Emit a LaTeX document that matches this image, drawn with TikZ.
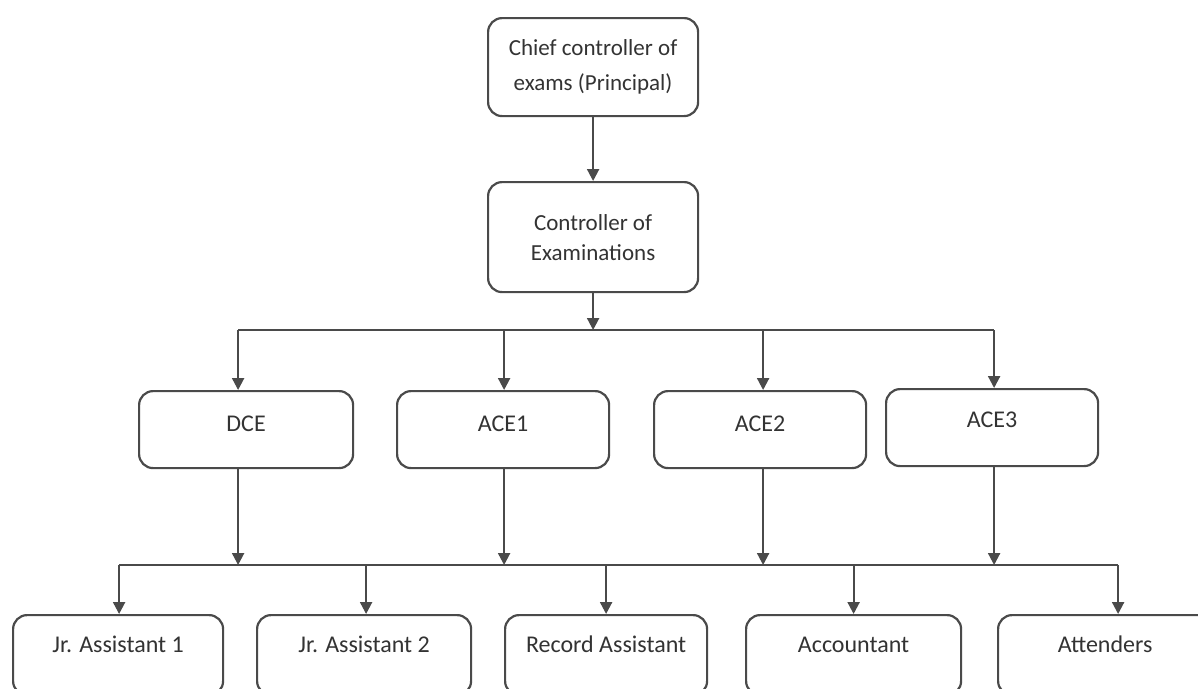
\documentclass[tikz,border=0pt]{standalone}
\usepackage{fontspec}
\setmainfont{Carlito}
\usetikzlibrary{arrows.meta}
\definecolor{ln}{HTML}{4A4A4A}
\definecolor{tx}{HTML}{333333}
\begin{document}
\begin{tikzpicture}[x=1pt,y=-1pt,
  box/.style={draw=ln, line width=2.2pt, rounded corners=14pt, text=tx, inner sep=0pt, anchor=north west},
  txt/.style={font=\fontsize{24}{28}\selectfont},
  upper/.style={box, txt, minimum width=#1, text height=40pt, text depth=37pt},
  lower/.style={box, txt, minimum width=#1, text height=37pt, text depth=43pt},
  arr/.style={draw=ln, line width=2.2pt, -{Triangle[width=12pt,length=12pt]}},
  bus/.style={draw=ln, line width=2.2pt}]
\useasboundingbox (0,0) rectangle (1198,688);
\clip (0,0) rectangle (1198,688);
\fill[white] (0,0) rectangle (1198,688);

% top boxes
\node[box, minimum width=210pt, minimum height=98pt, align=center,
      font=\fontsize{23}{35}\selectfont] (chief) at (487,17) {Chief controller of\\exams (Principal)};
\node[box, minimum width=210pt, minimum height=110pt, align=center,
      font=\fontsize{23}{30}\selectfont] (ctrl) at (487,181) {Controller of\\Examinations};

% second level
\node[upper=214pt] (dce)  at (138,390) {DCE};
\node[upper=212pt] (ace1) at (396,390) {ACE1};
\node[upper=212pt] (ace2) at (653,390) {ACE2};
\node[upper=212pt, text height=38pt, text depth=39pt] (ace3) at (885,388) {ACE3};

% third level
\node[lower=210pt] (jr1) at (12,614) {Jr. Assistant 1};
\node[lower=214pt] (jr2) at (256,614) {Jr. Assistant 2};
\node[lower=202pt] (rec) at (504,614) {Record Assistant};
\node[lower=215pt] (acc) at (745,614) {Accountant};
\node[lower=214pt] (att) at (997,614) {Attenders};

\coordinate (bus1) at (593,330);
\coordinate (bus2) at (600,565);

% chief -> controller
\draw[arr] (chief.south) -- (ctrl.north);
\draw[arr] (ctrl.south) -- (ctrl.south |- bus1);

% bus 1
\draw[bus] ([xshift=-8pt]dce.north |- bus1) -- ([xshift=2pt]ace3.north |- bus1);
\draw[arr] ([xshift=-8pt]dce.north |- bus1) -- ([xshift=-8pt]dce.north);
\draw[arr] ([xshift=1pt]ace1.north |- bus1) -- ([xshift=1pt]ace1.north);
\draw[arr] ([xshift=3pt]ace2.north |- bus1) -- ([xshift=3pt]ace2.north);
\draw[arr] ([xshift=2pt]ace3.north |- bus1) -- ([xshift=2pt]ace3.north);

% second level -> bus 2
\draw[arr] ([xshift=-8pt]dce.south) -- ([xshift=-8pt]dce.south |- bus2);
\draw[arr] ([xshift=1pt]ace1.south) -- ([xshift=1pt]ace1.south |- bus2);
\draw[arr] ([xshift=3pt]ace2.south) -- ([xshift=3pt]ace2.south |- bus2);
\draw[arr] ([xshift=2pt]ace3.south) -- ([xshift=2pt]ace3.south |- bus2);

% bus 2
\draw[bus] ([xshift=1pt]jr1.north |- bus2) -- ([xshift=13pt]att.north |- bus2);
\draw[arr] ([xshift=1pt]jr1.north |- bus2) -- ([xshift=1pt]jr1.north);
\draw[arr] ([xshift=2pt]jr2.north |- bus2) -- ([xshift=2pt]jr2.north);
\draw[arr] (rec.north |- bus2) -- (rec.north);
\draw[arr] (acc.north |- bus2) -- (acc.north);
\draw[arr] ([xshift=13pt]att.north |- bus2) -- ([xshift=13pt]att.north);
\end{tikzpicture}
\end{document}
